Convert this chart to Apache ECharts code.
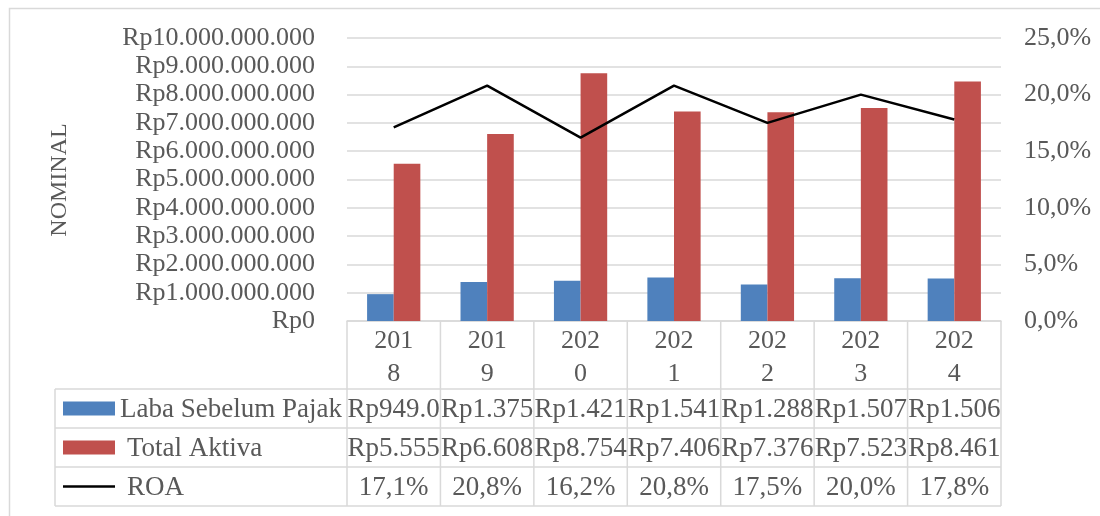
<!DOCTYPE html>
<html>
<head>
<meta charset="utf-8">
<script src="https://cdn.jsdelivr.net/npm/echarts@6/dist/echarts.min.js"></script>
<style>
html,body{margin:0;padding:0;background:#fff;}
#chart{width:1100px;height:516px;}
</style>
</head>
<body>
<div id="chart"></div>
<script>
// ---- data ----
const categories = ['2018', '2019', '2020', '2021', '2022', '2023', '2024'];
const labaSebelumPajak = [949000000, 1375000000, 1421000000, 1541000000, 1288000000, 1507000000, 1506000000];
const totalAktiva = [5555000000, 6608000000, 8754000000, 7406000000, 7376000000, 7523000000, 8461000000];
const roa = [0.171, 0.208, 0.162, 0.208, 0.175, 0.200, 0.178];
const seriesNames = ['Laba Sebelum Pajak', 'Total Aktiva', 'ROA'];
const leftAxisName = 'NOMINAL';

// ---- styles ----
const FONT = '"Liberation Serif", "Times New Roman", serif';
const TXT = '#595959';
const GRIDC = '#D9D9D9';
const BLUE = '#4F81BD';
const RED = '#C0504D';
const AXIS_FS = 26;
const TABLE_FS = 27;

const G = { left: 347, top: 38, right: 99, bottom: 195 };
const W = 1100, H = 516;

function rupiah(v) {
  const s = Math.round(v).toString().replace(/\B(?=(\d{3})+(?!\d))/g, '.');
  return 'Rp' + s;
}
function pct(v) {
  return (v * 100).toFixed(1).replace('.', ',') + '%';
}

const chart = echarts.init(document.getElementById('chart'), null, { renderer: 'canvas' });

const plotW = W - G.left - G.right;
const cellW = plotW / categories.length;
const yZero = H - G.bottom;
const rowTops = [yZero, 389, 428, 467, 506];
const tableLeft = 55;

const graphics = [];
// outer frame
graphics.push({ type: 'rect', shape: { x: 9.5, y: 8.5, width: 1200, height: 600 }, style: { fill: null, stroke: GRIDC, lineWidth: 1.5 }, silent: true });
// horizontal table lines
for (let r = 1; r < rowTops.length; r++) {
  graphics.push({ type: 'line', shape: { x1: tableLeft, y1: rowTops[r], x2: W - G.right, y2: rowTops[r] }, style: { stroke: GRIDC, lineWidth: 1.5 }, silent: true });
}
// vertical table lines
graphics.push({ type: 'line', shape: { x1: tableLeft, y1: rowTops[1], x2: tableLeft, y2: rowTops[4] }, style: { stroke: GRIDC, lineWidth: 1.5 }, silent: true });
for (let k = 0; k <= categories.length; k++) {
  const x = G.left + k * cellW;
  graphics.push({ type: 'line', shape: { x1: x, y1: yZero, x2: x, y2: rowTops[4] }, style: { stroke: GRIDC, lineWidth: 1.5 }, silent: true });
}
// table values
const rows = [
  labaSebelumPajak.map(v => rupiah(v).slice(0, 7)),
  totalAktiva.map(v => rupiah(v).slice(0, 7)),
  roa.map(pct)
];
rows.forEach((row, r) => {
  const cy = (rowTops[r + 1] + rowTops[r + 2]) / 2;
  row.forEach((t, i) => {
    graphics.push({ type: 'text', x: G.left + (i + 0.5) * cellW, y: cy + 1, style: { text: t, fill: TXT, font: TABLE_FS + 'px ' + FONT, textAlign: 'center', textVerticalAlign: 'middle' }, silent: true });
  });
});
// legend keys in table
const c1 = (rowTops[1] + rowTops[2]) / 2, c2 = (rowTops[2] + rowTops[3]) / 2, c3 = (rowTops[3] + rowTops[4]) / 2;
graphics.push({ type: 'rect', shape: { x: 63, y: c1 - 7, width: 52, height: 14 }, style: { fill: BLUE }, silent: true });
graphics.push({ type: 'rect', shape: { x: 63, y: c2 - 7, width: 52, height: 14 }, style: { fill: RED }, silent: true });
graphics.push({ type: 'line', shape: { x1: 63, y1: c3, x2: 115, y2: c3 }, style: { stroke: '#000', lineWidth: 2.5 }, silent: true });
graphics.push({ type: 'text', x: 120, y: c1 + 1, style: { text: seriesNames[0], fill: TXT, font: TABLE_FS + 'px ' + FONT, textVerticalAlign: 'middle' }, silent: true });
graphics.push({ type: 'text', x: 127, y: c2 + 1, style: { text: seriesNames[1], fill: TXT, font: TABLE_FS + 'px ' + FONT, textVerticalAlign: 'middle' }, silent: true });
graphics.push({ type: 'text', x: 127, y: c3 + 1, style: { text: seriesNames[2], fill: TXT, font: TABLE_FS + 'px ' + FONT, textVerticalAlign: 'middle' }, silent: true });
// y axis title
graphics.push({ type: 'text', x: 60, y: 180, rotation: Math.PI / 2, style: { text: leftAxisName, fill: TXT, font: '24px ' + FONT, textAlign: 'center', textVerticalAlign: 'middle' }, silent: true });

const option = {
  animation: false,
  backgroundColor: '#fff',
  grid: { left: G.left, top: G.top, right: G.right, bottom: G.bottom, containLabel: false },
  xAxis: {
    type: 'category',
    data: categories,
    axisLine: { show: true, lineStyle: { color: GRIDC, width: 1.5 } },
    axisTick: { show: false },
    axisLabel: {
      interval: 0, margin: 4, color: TXT, fontFamily: FONT, fontSize: AXIS_FS, lineHeight: 33,
      formatter: v => v.slice(0, 3) + '\n' + v.slice(3)
    }
  },
  yAxis: [
    {
      type: 'value', min: 0, max: 10000000000, interval: 1000000000,
      axisLine: { show: false }, axisTick: { show: false },
      splitLine: { lineStyle: { color: GRIDC, width: 1.5 } },
      axisLabel: { margin: 32, color: TXT, fontFamily: FONT, fontSize: AXIS_FS, formatter: rupiah }
    },
    {
      type: 'value', min: 0, max: 0.25, interval: 0.05,
      axisLine: { show: false }, axisTick: { show: false }, splitLine: { show: false },
      axisLabel: { margin: 23, color: TXT, fontFamily: FONT, fontSize: AXIS_FS, formatter: pct }
    }
  ],
  series: [
    { name: seriesNames[0], type: 'bar', data: labaSebelumPajak, itemStyle: { color: BLUE }, barGap: '0%', barCategoryGap: '43%' },
    { name: seriesNames[1], type: 'bar', data: totalAktiva, itemStyle: { color: RED }, barGap: '0%', barCategoryGap: '43%' },
    { name: seriesNames[2], type: 'line', yAxisIndex: 1, data: roa, showSymbol: false, symbol: 'none', lineStyle: { color: '#000', width: 2.5 }, z: 5 }
  ],
  graphic: graphics
};
chart.setOption(option);
</script>
</body>
</html>
